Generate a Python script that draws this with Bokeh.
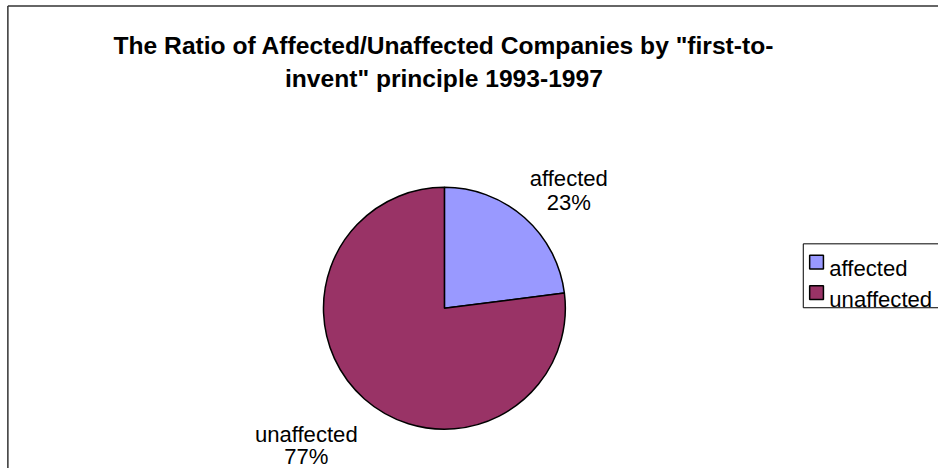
import numpy as np
from bokeh.plotting import figure
from bokeh.models import Range1d, ColumnDataSource
from bokeh.core.properties import value
from bokeh.embed import file_html
from bokeh.resources import INLINE

# ---- data ----
title_lines = ['The Ratio of Affected/Unaffected Companies by "first-to-',
               'invent" principle 1993-1997']
categories = ["affected", "unaffected"]
values = [23, 77]
colors = ["#9999FF", "#993366"]

# ---- layout (pixel coordinates of a 946x476 design, scaled to fit) ----
W, H = 938, 468
S = H / 476.0
FONT = "Liberation Sans"


def X(sx):
    return sx * S


def Y(sy):
    return H - sy * S


def F(px):
    return f"{px * S:.1f}px"


p = figure(width=W, height=H, title=None,
           x_range=Range1d(0, W), y_range=Range1d(0, H),
           output_backend="svg", toolbar_location=None, min_border=0,
           x_axis_location=None, y_axis_location=None)
p.grid.visible = False
p.outline_line_color = None
p.background_fill_color = "white"
p.border_fill_color = "white"

# outer chart border (left and top visible)
p.segment(x0=[X(7.5), X(7.5)], y0=[0, Y(5.5)],
          x1=[X(7.5), W], y1=[Y(5.5), Y(5.5)],
          line_color="#333333", line_width=1.5)

# title
p.text(x=[X(451), X(451)], y=[Y(46), Y(79)], text=title_lines,
       text_font=value(FONT), text_font_style="bold",
       text_font_size=F(25), text_align="center",
       text_baseline="alphabetic", text_color="black")

# pie
vals = np.array(values, dtype=float)
frac = vals / vals.sum()
cum = np.cumsum(frac)
start = np.pi / 2 - 2 * np.pi * (cum - frac)
end = np.pi / 2 - 2 * np.pi * cum
src = ColumnDataSource(dict(cat=categories, start=start, end=end, color=colors))
cx, cy, r = X(451.5), Y(313), 123 * S
p.wedge(x=cx, y=cy, radius=r, start_angle="start", end_angle="end",
        direction="clock", fill_color="color", line_color="black",
        line_width=1.5, source=src)

# data labels
pct = [f"{v}%" for v in values]
lab_x = [X(578), X(311)]
lab_y1 = [Y(181), Y(441)]
lab_y2 = [Y(205), Y(464)]
p.text(x=lab_x, y=lab_y1, text=categories, text_font=value(FONT),
       text_font_size=F(22.5), text_align="center", text_baseline="alphabetic",
       text_color="black")
p.text(x=lab_x, y=lab_y2, text=pct, text_font=value(FONT),
       text_font_size=F(22.5), text_align="center", text_baseline="alphabetic",
       text_color="black")

# legend
p.quad(left=X(816.5), right=X(990), top=Y(247.5), bottom=Y(312.5),
       fill_color="white", line_color="black", line_width=1)
p.scatter(x=[X(830), X(830)], y=[Y(266), Y(297)], marker="square", size=14 * S,
          fill_color=colors, line_color="black", line_width=1.5)
p.text(x=[X(843), X(843)], y=[Y(273), Y(304)], text=categories,
       text_font=value(FONT), text_font_size=F(22.5), text_align="left",
       text_baseline="alphabetic", text_color="black")

open("out.html", "w").write(file_html(p, INLINE))
